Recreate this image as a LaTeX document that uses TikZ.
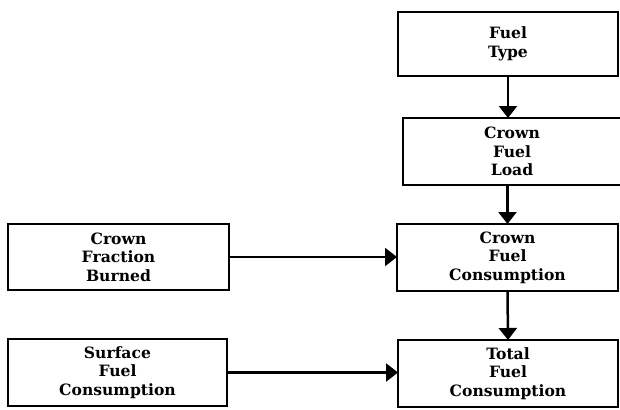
\documentclass[tikz,border=0pt]{standalone}
\usepackage{fontspec}
\setmainfont{DejaVu Serif}
\usetikzlibrary{arrows.meta}
\begin{document}
\begin{tikzpicture}[x=1pt,y=-1pt,
  blockbox/.style={draw, line width=2.5pt, inner sep=0pt, outer sep=0pt,
    align=center, minimum width=221pt, minimum height=66pt,
    font=\bfseries\fontsize{15.6}{18.6}\selectfont},
  flow/.style={line width=2.5pt, -{Triangle[length=12pt,width=18pt]}}]
  \useasboundingbox (0,0) rectangle (620,409);

  % right-hand column
  \node[blockbox, minimum width=220pt, minimum height=64pt] (ft)  at (508,44)    {Fuel\\Type};
  \node[blockbox, minimum width=218pt, minimum height=67pt] (cfl) at (512,151.5) {Crown\\Fuel\\Load};
  \node[blockbox, minimum height=67pt] (cfc) at (507.5,257.5) {Crown\\Fuel\\Consumption};
  \node[blockbox, minimum width=220pt, minimum height=67pt] (tot) at (508,373.5) {Total\\Fuel\\Consumption};

  % left-hand column
  \node[blockbox] (cfb) at (118.5,257) {Crown\\Fraction\\Burned};
  \node[blockbox, minimum width=219pt, minimum height=67pt] (sfc) at (117.5,372.5) {Surface\\Fuel\\Consumption};

  % connectors
  \draw[flow] (ft.south) -- (ft.south |- cfl.north);
  \draw[flow] (cfc.north |- cfl.south) -- (cfc.north);
  \draw[flow] (cfc.south) -- (tot.north);
  \draw[flow] (cfb.east) -- (cfb.east -| cfc.west);
  \draw[flow] (sfc.east) -- (sfc.east -| tot.west);
\end{tikzpicture}
\end{document}
